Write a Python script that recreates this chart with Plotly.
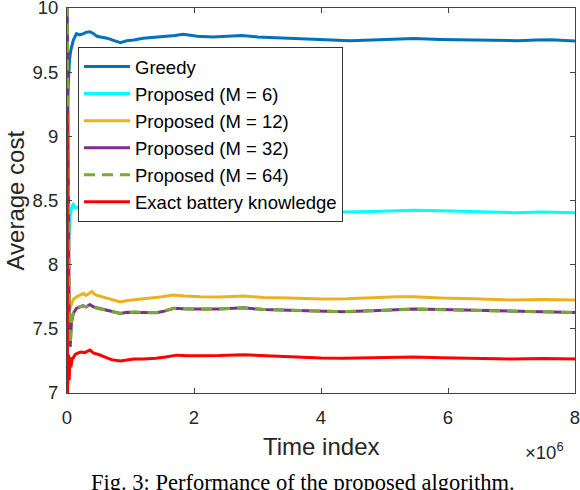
import plotly.graph_objects as go

# ---- data (time in units of 1e6) ----
greedy_x = [0, 0.02, 0.04, 0.06, 0.1, 0.15, 0.2, 0.26, 0.3, 0.36, 0.42, 0.47, 0.55, 0.63, 0.72, 0.84, 0.94, 1.05, 1.2, 1.35, 1.52, 1.7, 1.83, 2.05, 2.3, 2.5, 2.75, 3.0, 3.3, 3.6, 3.9, 4.2, 4.46, 4.8, 5.1, 5.46, 5.88, 6.3, 6.7, 7.09, 7.4, 7.62, 8.0]
greedy_y = [9.2, 9.45, 9.6, 9.67, 9.75, 9.80, 9.79, 9.80, 9.81, 9.815, 9.80, 9.78, 9.775, 9.765, 9.75, 9.73, 9.745, 9.75, 9.765, 9.77, 9.78, 9.785, 9.795, 9.78, 9.775, 9.78, 9.785, 9.775, 9.77, 9.765, 9.76, 9.755, 9.745, 9.75, 9.755, 9.763, 9.755, 9.75, 9.745, 9.745, 9.75, 9.752, 9.743]

m6_x = [0, 0.01, 0.03, 0.05, 0.08, 0.1, 0.13, 0.18, 0.25, 0.32, 0.4, 0.5, 0.6, 0.7, 0.8, 0.88, 1.0, 1.15, 1.3, 1.5, 1.7, 1.9, 2.1, 2.4, 2.78, 3.1, 3.5, 3.9, 4.35, 4.8, 5.1, 5.46, 5.9, 6.3, 6.6, 7.03, 7.5, 8.0]
m6_y = [7.6, 7.9, 8.2, 8.38, 8.46, 8.47, 8.44, 8.45, 8.43, 8.44, 8.435, 8.43, 8.43, 8.42, 8.405, 8.40, 8.415, 8.42, 8.43, 8.425, 8.43, 8.44, 8.433, 8.435, 8.44, 8.43, 8.425, 8.42, 8.41, 8.415, 8.42, 8.425, 8.42, 8.415, 8.41, 8.405, 8.41, 8.405]

m12_x = [0, 0.02, 0.05, 0.07, 0.1, 0.15, 0.2, 0.26, 0.3, 0.36, 0.39, 0.45, 0.55, 0.65, 0.75, 0.84, 0.95, 1.05, 1.2, 1.35, 1.5, 1.67, 1.85, 2.1, 2.4, 2.78, 3.1, 3.5, 4.0, 4.4, 4.8, 5.2, 5.46, 5.9, 6.4, 7.03, 7.5, 8.0]
m12_y = [7.45, 7.6, 7.66, 7.69, 7.73, 7.75, 7.76, 7.775, 7.76, 7.78, 7.79, 7.765, 7.75, 7.74, 7.725, 7.71, 7.72, 7.725, 7.735, 7.74, 7.75, 7.763, 7.755, 7.75, 7.748, 7.755, 7.745, 7.74, 7.732, 7.735, 7.745, 7.75, 7.75, 7.74, 7.735, 7.724, 7.728, 7.724]

m32_x = [0, 0.01, 0.02, 0.035, 0.05, 0.07, 0.1, 0.15, 0.2, 0.25, 0.3, 0.36, 0.42, 0.5, 0.6, 0.7, 0.84, 0.95, 1.05, 1.2, 1.41, 1.55, 1.68, 1.9, 2.1, 2.4, 2.78, 3.1, 3.5, 4.0, 4.35, 4.8, 5.2, 5.46, 5.9, 6.4, 6.9, 7.3, 8.0]
m32_y = [10.3, 9.2, 8.2, 7.6, 7.36, 7.55, 7.62, 7.66, 7.67, 7.68, 7.67, 7.69, 7.67, 7.66, 7.65, 7.635, 7.62, 7.63, 7.63, 7.63, 7.625, 7.64, 7.66, 7.655, 7.654, 7.655, 7.664, 7.65, 7.645, 7.635, 7.633, 7.64, 7.65, 7.654, 7.65, 7.645, 7.64, 7.635, 7.628]

m64_x = [0, 0.01, 0.02, 0.035, 0.05, 0.07, 0.1, 0.15, 0.2, 0.25, 0.3, 0.36, 0.42, 0.5, 0.6, 0.7, 0.84, 0.95, 1.05, 1.2, 1.41, 1.55, 1.68, 1.9, 2.1, 2.4, 2.78, 3.1, 3.5, 4.0, 4.35, 4.8, 5.2, 5.46, 5.9, 6.4, 6.9, 7.3, 8.0]
m64_y = [10.3, 9.25, 8.3, 7.62, 7.38, 7.56, 7.63, 7.665, 7.672, 7.678, 7.672, 7.688, 7.668, 7.658, 7.648, 7.633, 7.622, 7.628, 7.632, 7.628, 7.627, 7.642, 7.658, 7.656, 7.652, 7.656, 7.662, 7.651, 7.644, 7.636, 7.634, 7.641, 7.649, 7.653, 7.649, 7.644, 7.641, 7.634, 7.627]

exact_x = [0, 0.008, 0.015, 0.025, 0.035, 0.045, 0.06, 0.08, 0.1, 0.13, 0.17, 0.22, 0.28, 0.33, 0.36, 0.42, 0.5, 0.6, 0.7, 0.84, 0.95, 1.05, 1.2, 1.4, 1.55, 1.73, 1.9, 2.1, 2.4, 2.78, 3.1, 3.5, 4.0, 4.35, 4.8, 5.2, 5.46, 5.9, 6.4, 7.03, 7.5, 8.0]
exact_y = [9.2, 7.0, 7.15, 7.3, 7.1, 7.28, 7.2, 7.26, 7.28, 7.3, 7.31, 7.32, 7.315, 7.33, 7.335, 7.31, 7.3, 7.28, 7.26, 7.25, 7.255, 7.265, 7.265, 7.27, 7.28, 7.295, 7.29, 7.29, 7.292, 7.298, 7.29, 7.28, 7.272, 7.27, 7.275, 7.28, 7.28, 7.275, 7.27, 7.264, 7.268, 7.264]

x_ticks = [0, 2, 4, 6, 8]
y_ticks = [7, 7.5, 8, 8.5, 9, 9.5, 10]
y_ticktext = ["7", "7.5", "8", "8.5", "9", "9.5", "10"]

series = [
    ("Greedy", greedy_x, greedy_y, "#0072BD", "solid"),
    ("Proposed (M = 6)", m6_x, m6_y, "#00FFFF", "solid"),
    ("Proposed (M = 12)", m12_x, m12_y, "#EDB120", "solid"),
    ("Proposed (M = 32)", m32_x, m32_y, "#7E2F8E", "solid"),
    ("Proposed (M = 64)", m64_x, m64_y, "#77AC30", "11px,7px"),
    ("Exact battery knowledge", exact_x, exact_y, "#FF0000", "solid"),
]

fig = go.Figure()
for name, xs, ys, color, dash in series:
    fig.add_trace(go.Scatter(x=xs, y=ys, mode="lines", name=name,
                             line=dict(color=color, width=3, dash=dash)))

W, H = 580, 490
L, R, T, B = 67, 5, 8, 97
pw, ph = W - L - R, H - T - B

font_family = "Liberation Sans, Arial, Helvetica, sans-serif"
axis_common = dict(showline=True, linecolor="#444444", linewidth=1, mirror="ticks",
                   ticks="inside", ticklen=5, tickcolor="#444444", showgrid=False,
                   zeroline=False, ticklabeloverflow="allow",
                   tickfont=dict(family=font_family, size=18.5, color="#262626"))

fig.update_layout(
    width=W, height=H,
    margin=dict(l=L, r=R, t=T, b=B, pad=0, autoexpand=False),
    paper_bgcolor="white", plot_bgcolor="white",
    showlegend=True,
    legend=dict(x=(78 - L) / pw, y=(H - B - 47) / ph, xanchor="left", yanchor="top",
                bgcolor="white", bordercolor="#333333", borderwidth=1,
                font=dict(family=font_family, size=18.5, color="black"),
                tracegroupgap=0, itemwidth=46),
    xaxis=dict(range=[0, 8], tickvals=x_ticks, ticktext=[str(v) for v in x_ticks],
               ticklabelstandoff=8, **axis_common),
    yaxis=dict(range=[7, 10], tickvals=y_ticks, ticktext=y_ticktext,
               ticklabelstandoff=4, **axis_common),
)

ann_font = dict(family=font_family, size=24, color="#262626")
fig.add_annotation(text="Time index", xref="paper", yref="paper", x=0.5, y=0,
                   yshift=-53, xanchor="center", yanchor="middle", showarrow=False, font=ann_font)
fig.add_annotation(text="Average cost", xref="paper", yref="paper", x=0, y=0.5,
                   xshift=-52, xanchor="center", yanchor="middle", textangle=-90,
                   showarrow=False, font=ann_font)
fig.add_annotation(text="×10<sup>6</sup>", xref="paper", yref="paper", x=1, y=0,
                   xshift=-9, yshift=-58, xanchor="right", yanchor="middle", showarrow=False,
                   font=dict(family=font_family, size=18.5, color="#262626"))
fig.add_annotation(text="Fig. 3: Performance of the proposed algorithm.", xref="paper", yref="paper",
                   x=(303 - L) / pw, y=0, yshift=-89, xanchor="center", yanchor="middle",
                   showarrow=False, font=dict(family="Liberation Serif, Times New Roman, serif", size=22.5, color="black"))

fig.write_html("out.html", config={"displayModeBar": False},
               post_script="document.body.style.margin='0px';document.body.style.overflow='hidden';")
